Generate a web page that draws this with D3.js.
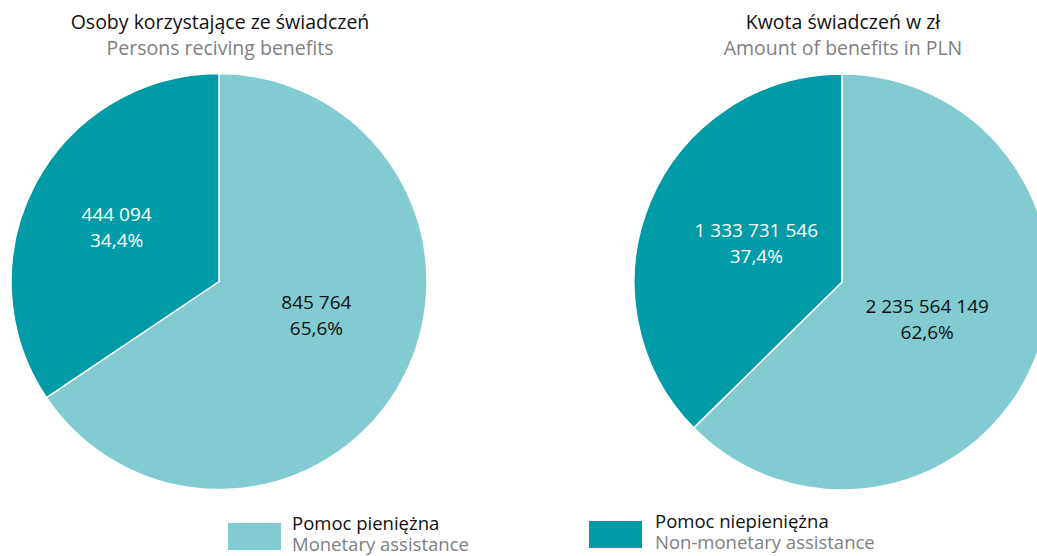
<!DOCTYPE html>
<html>
<head>
<meta charset="utf-8">
<script src="https://cdn.jsdelivr.net/npm/d3@7"></script>
<style>
  html, body { margin: 0; padding: 0; background: #fff; }
  svg { display: block; font-family: "Open Sans", "Noto Sans", sans-serif; }
</style>
</head>
<body>
<svg id="chart" width="1037" height="556"></svg>
<script>
// Category names (Polish / English)
const categoriesPl = ["Pomoc pieniężna", "Pomoc niepieniężna"];
const categoriesEn = ["Monetary assistance", "Non-monetary assistance"];

// Persons receiving benefits
const personsValues = [845764, 444094];
const personsShares = ["65,6%", "34,4%"];

// Amount of benefits in PLN
const amountValues = [2235564149, 1333731546];
const amountShares = ["62,6%", "37,4%"];

const titlesPl = ["Osoby korzystające ze świadczeń", "Kwota świadczeń w zł"];
const titlesEn = ["Persons reciving benefits", "Amount of benefits in PLN"];

const colors = ["#82ccd1", "#009ba6"];
const labelColors = ["#111111", "#ffffff"];

const svg = d3.select("#chart");
const fmt = v => d3.format(",")(v).replace(/,/g, " ");

const color = d3.scaleOrdinal().domain(categoriesPl).range(colors);
const textColor = d3.scaleOrdinal().domain(categoriesPl).range(labelColors);

const pie = d3.pie().sort(null).value(d => d.value);
const R = 208;
const arc = d3.arc().innerRadius(0).outerRadius(R);
const FS = 19.5;

const panels = [
  { cx: 219, cy: 281.5, values: personsValues, shares: personsShares,
    labelPos: [{ r: 103, shift: -9 }, { r: 116, shift: 0 }] },
  { cx: 842, cy: 282, values: amountValues, shares: amountShares,
    labelPos: [{ r: 93, shift: 1 }, { r: 94, shift: 1.5 }] }
];

panels.forEach((p, i) => {
  // titles
  svg.append("text")
    .attr("x", p.cx + 1).attr("y", 29)
    .attr("text-anchor", "middle")
    .attr("font-size", FS).attr("fill", "#111")
    .text(titlesPl[i]);
  svg.append("text")
    .attr("x", p.cx + 1).attr("y", 55)
    .attr("text-anchor", "middle")
    .attr("font-size", FS).attr("fill", "#808080")
    .text(titlesEn[i]);

  const data = categoriesPl.map((c, k) => ({ cat: c, value: p.values[k], share: p.shares[k] }));
  const arcs = pie(data);
  const g = svg.append("g").attr("transform", `translate(${p.cx},${p.cy})`);

  g.selectAll("path").data(arcs).join("path")
    .attr("d", arc)
    .attr("fill", d => color(d.data.cat))
    .attr("stroke", "#fff")
    .attr("stroke-width", 1.5)
    .attr("stroke-linejoin", "round");

  const lab = g.selectAll("g.lab").data(arcs).join("g").attr("class", "lab")
    .attr("transform", (d, k) => {
      const lp = p.labelPos[k];
      const a = (d.startAngle + d.endAngle) / 2 + lp.shift * Math.PI / 180;
      return `translate(${Math.sin(a) * lp.r},${-Math.cos(a) * lp.r})`;
    });
  lab.append("text")
    .attr("y", -6).attr("text-anchor", "middle")
    .attr("font-size", 19).attr("fill", d => textColor(d.data.cat))
    .text(d => fmt(d.data.value));
  lab.append("text")
    .attr("y", 20).attr("text-anchor", "middle")
    .attr("font-size", 19).attr("fill", d => textColor(d.data.cat))
    .text(d => d.data.share);
});

// legend
const legend = [
  { x: 228, y: 523, tx: 292, ty: 530 },
  { x: 589, y: 521, tx: 655, ty: 528 }
];
categoriesPl.forEach((c, k) => {
  const L = legend[k];
  svg.append("rect")
    .attr("x", L.x).attr("y", L.y).attr("width", 53).attr("height", 27)
    .attr("fill", color(c));
  svg.append("text")
    .attr("x", L.tx).attr("y", L.ty)
    .attr("font-size", 18.5).attr("fill", "#111")
    .text(c);
  svg.append("text")
    .attr("x", L.tx).attr("y", L.ty + 21)
    .attr("font-size", 18.5).attr("fill", "#808080")
    .text(categoriesEn[k]);
});
</script>
</body>
</html>
